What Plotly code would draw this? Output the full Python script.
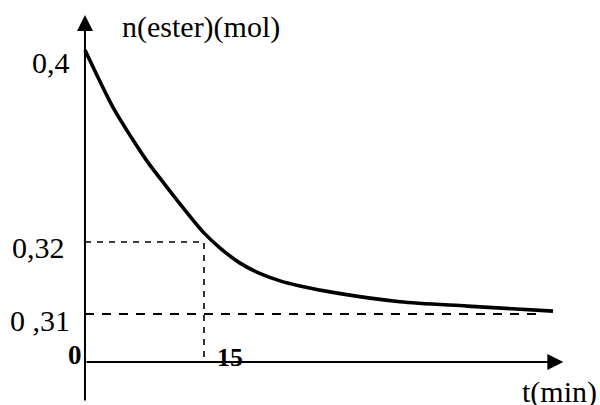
import numpy as np
import plotly.graph_objects as go

# ---- data ----
t_min = [0, 3.5, 5.9, 7.8, 10.1, 12.0, 15.0, 17.0, 19.5, 22.1, 24.6, 27.1, 31.8,
         39.7, 48.2, 59.0]
n_ester = [0.400, 0.3763, 0.3633, 0.3538, 0.3438, 0.3358, 0.3238, 0.3192, 0.3171,
           0.3156, 0.3146, 0.3139, 0.3129, 0.3117, 0.3111, 0.3104]
y_tick_vals = [0.40, 0.32, 0.31]
y_tick_text = ["0,4", "0,32", "0 ,31"]
t_mark = 15
n_mark = 0.32
n_limit = 0.31
t_limit_end = 57.4
t_axis_end = 60.3

# schematic (broken) vertical scale of the sketch: value -> drawing units
Y_BREAKS = [0.0, 0.31, 0.32, 0.40]
Y_DRAW = [0.0, 48.0, 120.0, 312.0]


def ydisp(v):
    return np.interp(np.asarray(v, dtype=float), Y_BREAKS, Y_DRAW)


FONT = "Liberation Serif, Times New Roman, serif"
fig = go.Figure()

# dashed guide lines
fig.add_trace(go.Scatter(x=[0, t_mark, t_mark], y=ydisp([n_mark, n_mark, 0]),
                         mode="lines", line=dict(color="black", width=1.6, dash="6px,6px"),
                         hoverinfo="skip", showlegend=False))
fig.add_trace(go.Scatter(x=[0, t_limit_end], y=ydisp([n_limit, n_limit]),
                         mode="lines", line=dict(color="black", width=2, dash="9px,8px"),
                         hoverinfo="skip", showlegend=False))
# curve
fig.add_trace(go.Scatter(x=t_min, y=ydisp(n_ester), mode="lines",
                         line=dict(color="black", width=3.6, shape="spline", smoothing=0.8),
                         showlegend=False))

ann = []
# axes with arrows
ann.append(dict(x=0, y=347, ax=0, ay=-40, xref="x", yref="y", axref="x", ayref="y",
                showarrow=True, arrowhead=2, arrowsize=1.6, arrowwidth=2, arrowcolor="black", text=""))
ann.append(dict(x=t_axis_end, y=0, ax=0, ay=0, xref="x", yref="y", axref="x", ayref="y",
                showarrow=True, arrowhead=2, arrowsize=1.6, arrowwidth=2, arrowcolor="black", text=""))

# tick labels
shifts = [(-13, -12), (-18, -5), (-13, -6)]
for v, txt, (dx, dy) in zip(y_tick_vals, y_tick_text, shifts):
    ann.append(dict(x=0, y=float(ydisp(v)), xref="x", yref="y", text=txt, showarrow=False,
                    xanchor="right", yanchor="middle", xshift=dx, yshift=dy,
                    font=dict(family=FONT, size=30, color="black")))
ann.append(dict(x=0, y=0, xref="x", yref="y", text="<b>0</b>", showarrow=False,
                xanchor="right", yanchor="middle", xshift=-1, yshift=7,
                font=dict(family=FONT, size=27, color="black")))
ann.append(dict(x=t_mark, y=0, xref="x", yref="y", text="<b>15</b>", showarrow=False,
                xanchor="left", yanchor="middle", xshift=11, yshift=5,
                font=dict(family=FONT, size=26, color="black")))
# axis titles
ann.append(dict(x=120 / 600, y=1 - 27 / 405, xref="paper", yref="paper", text="n(ester)(mol)",
                showarrow=False, xanchor="left", yanchor="middle",
                font=dict(family=FONT, size=30, color="black")))
ann.append(dict(x=598 / 600, y=1 - 392 / 405, xref="paper", yref="paper", text="t(min)",
                showarrow=False, xanchor="right", yanchor="middle", borderpad=0,
                font=dict(family=FONT, size=30, color="black")))

fig.update_layout(
    width=600, height=405, autosize=False,
    margin=dict(l=0, r=0, t=0, b=0),
    paper_bgcolor="white", plot_bgcolor="white",
    xaxis=dict(range=[-10.71, 64.92], visible=False, fixedrange=True),
    yaxis=dict(range=[-43, 362], visible=False, fixedrange=True),
    annotations=ann,
    showlegend=False,
)

fig.write_html("out.html", config={"staticPlot": True},
               post_script="document.body.style.margin='0';document.body.style.overflow='hidden';")
